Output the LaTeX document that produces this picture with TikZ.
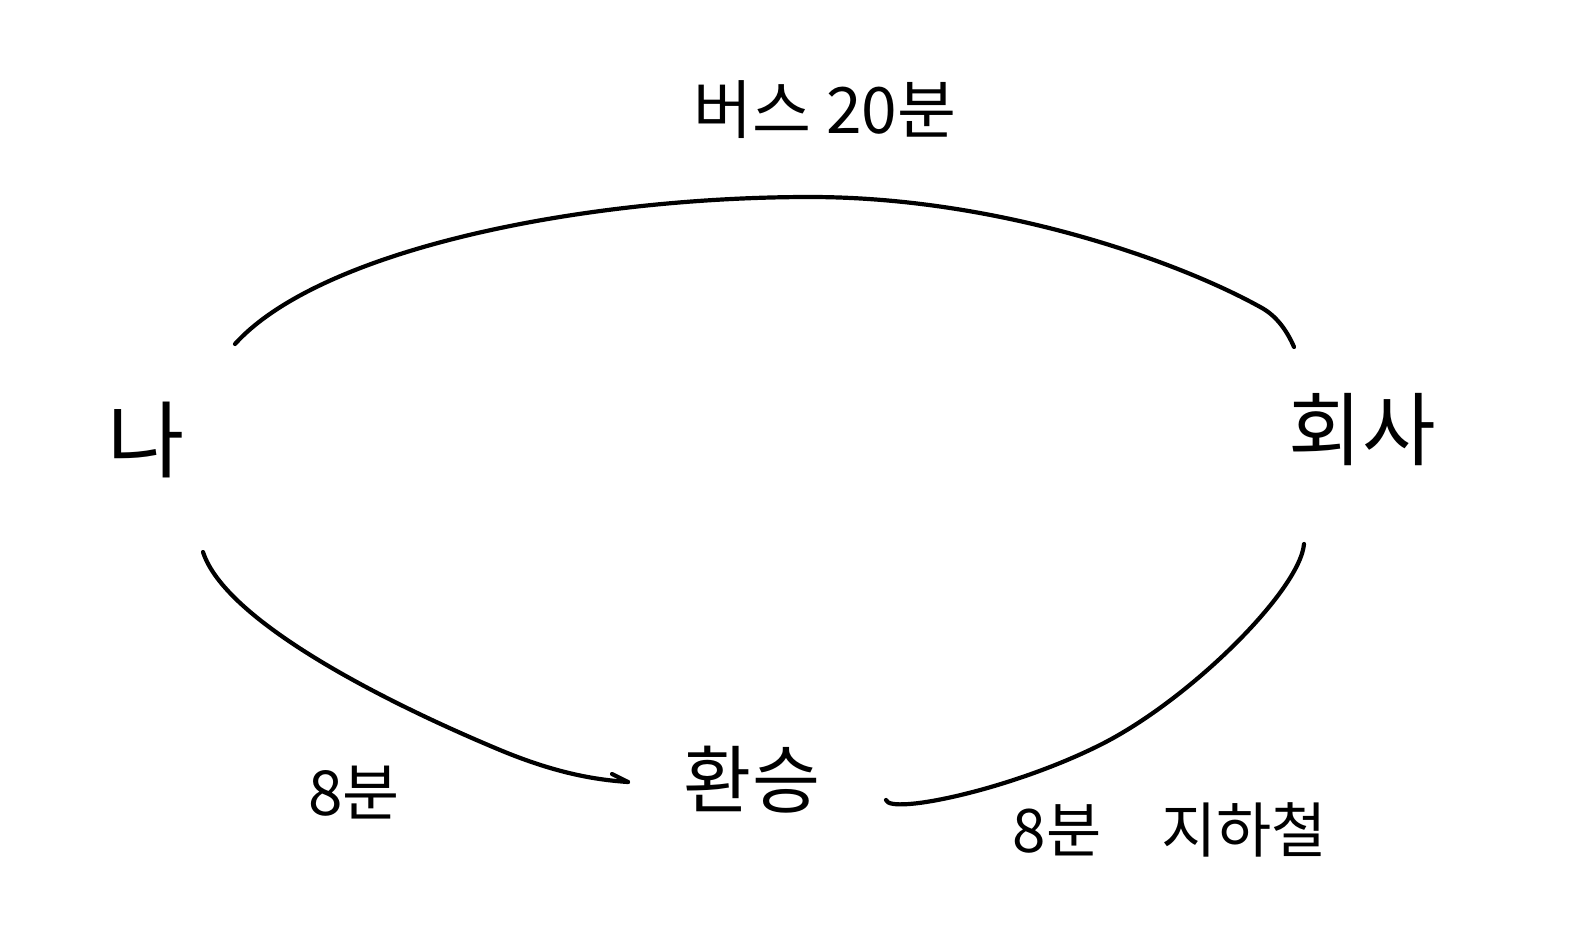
\documentclass[tikz,border=0pt]{standalone}
\usepackage{fontspec}
\setmainfont{Noto Sans CJK KR}
\usetikzlibrary{arrows.meta}
\tikzset{
  lbl/.style={inner sep=0pt, font=\fontsize{#1}{#1}\selectfont},
  link/.style={line width=4.2pt, line cap=round, line join=round},
}
\begin{document}
\begin{tikzpicture}[x=1pt,y=-1pt]
\useasboundingbox (0,0) rectangle (1588,937);
\node[lbl=84] (na) at (146,440) {나};
\node[lbl=80] (hoesa) at (1362,430) {회사};
\node[lbl=74] (hwan) at (752,780) {환승};
\node[lbl=64] (bus) at (825,110) {버스 20분};
\node[lbl=62] (m8) at (354,793) {8분};
\node[lbl=60] (sub) at (1170,830) {8분\quad 지하철};
\coordinate (a1) at (235,344);
\coordinate (a2) at (1294,347);
\coordinate (b1) at (203,552);
\coordinate (b2) at (628,782);
\coordinate (c1) at (886,800);
\coordinate (c2) at (1304,544);
\draw[link] (a1) .. controls (320,250) and (580,197) .. (810,197)
  .. controls (1000,197) and (1180,262) .. (1262,308)
  .. controls (1278,317) and (1288,333) .. (a2);
\draw[link] (b1) .. controls (225,620) and (380,700) .. (500,750)
  .. controls (560,775) and (600,780) .. (b2);
\draw[link] (b2) -- ++(-16,-8);
\draw[link] (c1) .. controls (890,815) and (1010,790) .. (1100,745)
  .. controls (1190,700) and (1300,590) .. (c2);
\end{tikzpicture}
\end{document}
